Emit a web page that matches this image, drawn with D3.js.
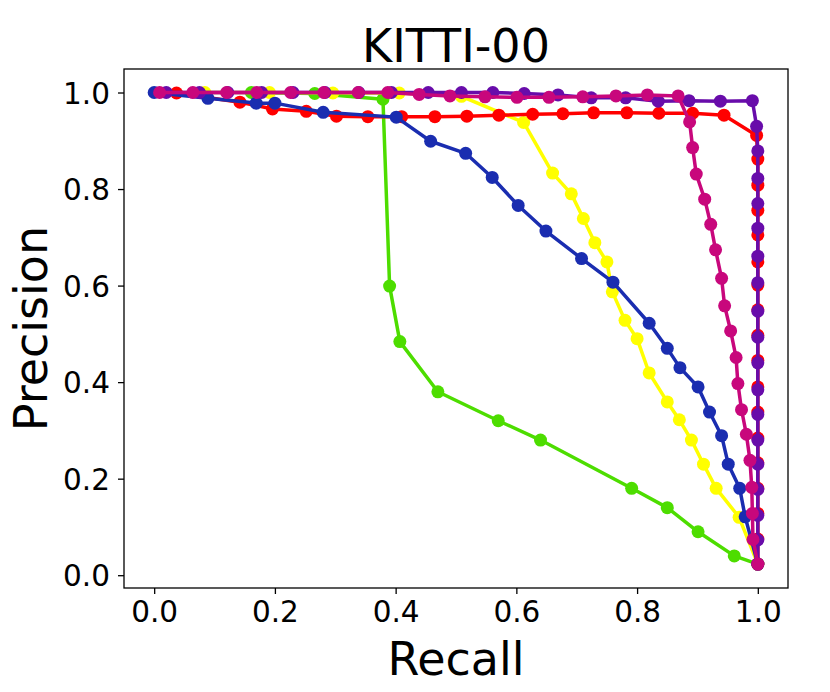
<!DOCTYPE html>
<html lang="en">
<head>
<meta charset="utf-8">
<script src="https://cdn.jsdelivr.net/npm/d3@7"></script>
<style>
  body { margin: 0; background: #fff; }
  text { font-family: "DejaVu Sans", sans-serif; fill: #000; }
</style>
</head>
<body>
<svg class="chart"></svg>
<script>
// values, one pair of arrays per curve
var greenRecall    = [0.161, 0.266, 0.379, 0.390, 0.407, 0.470, 0.570, 0.640, 0.791, 0.850, 0.901, 0.961, 1.0];
var greenPrecision = [1.0, 0.998, 0.986, 0.599, 0.484, 0.380, 0.320, 0.280, 0.180, 0.140, 0.090, 0.040, 0.023];

var yellowRecall    = [0.084, 0.191, 0.296, 0.406, 0.509, 0.612, 0.660, 0.691, 0.711, 0.730, 0.750, 0.759, 0.780, 0.800, 0.820, 0.850, 0.870, 0.890, 0.910, 0.931, 0.969, 1.0];
var yellowPrecision = [1.0, 1.0, 0.999, 0.999, 0.992, 0.938, 0.833, 0.790, 0.739, 0.689, 0.649, 0.587, 0.528, 0.490, 0.419, 0.359, 0.322, 0.280, 0.230, 0.180, 0.120, 0.023];

var redRecall    = [0.037, 0.142, 0.196, 0.252, 0.302, 0.354, 0.410, 0.465, 0.518, 0.571, 0.627, 0.677, 0.728, 0.783, 0.836, 0.892, 0.944, 0.998,
                    1.0, 1.0, 1.0, 1.0, 1.0, 1.0, 1.0, 1.0, 1.0, 1.0, 1.0, 1.0, 1.0, 1.0, 1.0, 1.0, 1.0];
var redPrecision = [0.999, 0.980, 0.966, 0.961, 0.951, 0.950, 0.950, 0.950, 0.951, 0.953, 0.955, 0.956, 0.958, 0.958, 0.957, 0.957, 0.953, 0.911,
                    0.862, 0.808, 0.756, 0.705, 0.649, 0.601, 0.550, 0.497, 0.445, 0.390, 0.338, 0.284, 0.233, 0.180, 0.128, 0.075, 0.023];

var blueRecall    = [0.0, 0.089, 0.169, 0.200, 0.280, 0.401, 0.458, 0.516, 0.560, 0.603, 0.649, 0.708, 0.760, 0.820, 0.850, 0.871, 0.901, 0.920, 0.940, 0.951, 0.970, 0.979, 1.0];
var bluePrecision = [1.0, 0.988, 0.978, 0.978, 0.959, 0.949, 0.899, 0.874, 0.824, 0.766, 0.713, 0.656, 0.607, 0.522, 0.470, 0.430, 0.390, 0.338, 0.289, 0.230, 0.180, 0.121, 0.023];

var purpleRecall    = [0.020, 0.075, 0.122, 0.178, 0.230, 0.283, 0.339, 0.393, 0.454, 0.509, 0.561, 0.613, 0.669, 0.724, 0.781, 0.835, 0.886, 0.938, 0.991, 0.998,
                       1.0, 1.0, 1.0, 1.0, 1.0, 1.0, 1.0, 1.0, 1.0, 1.0, 1.0, 1.0, 1.0, 1.0, 1.0, 1.0, 1.0];
var purplePrecision = [1.0, 1.0, 1.0, 1.0, 1.0, 1.0, 1.0, 1.0, 1.0, 1.0, 1.0, 0.998, 0.995, 0.989, 0.989, 0.982, 0.983, 0.982, 0.983, 0.930,
                       0.879, 0.822, 0.770, 0.719, 0.661, 0.606, 0.547, 0.493, 0.440, 0.384, 0.333, 0.280, 0.230, 0.178, 0.124, 0.073, 0.023];

var magentaRecall    = [0.009, 0.064, 0.120, 0.170, 0.226, 0.281, 0.338, 0.387, 0.439, 0.490, 0.548, 0.601, 0.654, 0.710, 0.765, 0.817, 0.868,
                        0.887, 0.892, 0.898, 0.912, 0.922, 0.930, 0.940, 0.945, 0.955, 0.964, 0.967, 0.973, 0.981, 0.987, 0.990, 0.991, 0.992, 1.0];
var magentaPrecision = [1.0, 1.0, 1.0, 1.0, 1.0, 1.0, 1.0, 1.0, 0.996, 0.993, 0.991, 0.990, 0.990, 0.991, 0.993, 0.995, 0.993,
                        0.939, 0.886, 0.831, 0.779, 0.727, 0.674, 0.615, 0.558, 0.506, 0.451, 0.397, 0.343, 0.292, 0.238, 0.182, 0.128, 0.074, 0.023];

var xTicks = [0.0, 0.2, 0.4, 0.6, 0.8, 1.0];
var yTicks = [0.0, 0.2, 0.4, 0.6, 0.8, 1.0];

// drawing order matches the reference (last one on top)
var curves = [
  {name: 'green',   color: '#4ddd00', recall: greenRecall,   precision: greenPrecision},
  {name: 'yellow',  color: '#ffff00', recall: yellowRecall,  precision: yellowPrecision},
  {name: 'red',     color: '#ff0000', recall: redRecall,     precision: redPrecision},
  {name: 'blue',    color: '#1a2db0', recall: blueRecall,    precision: bluePrecision},
  {name: 'purple',  color: '#680caa', recall: purpleRecall,  precision: purplePrecision},
  {name: 'magenta', color: '#c8077c', recall: magentaRecall, precision: magentaPrecision}
];

var screenWidth = 830, screenHeight = 692;
var margins = {top: 69, bottom: 104, left: 124, right: 42};
var width = screenWidth - margins.left - margins.right;
var height = screenHeight - margins.top - margins.bottom;

var svg = d3.select('.chart')
            .attr('width', screenWidth)
            .attr('height', screenHeight);

var xScale = d3.scaleLinear().domain([-0.05, 1.05]).range([0, width]);
var yScale = d3.scaleLinear().domain([-0.0265, 1.0487]).range([height, 0]);

var plot = svg.append('g')
              .attr('transform', 'translate(' + margins.left + ',' + margins.top + ')');

var line = d3.line()
             .x(function(d){ return xScale(d[0]); })
             .y(function(d){ return yScale(d[1]); });

curves.forEach(function(c){
  var pts = c.recall.map(function(r, i){ return [r, c.precision[i]]; });
  var g = plot.append('g').classed(c.name, true);
  g.append('path')
   .datum(pts)
   .attr('d', line)
   .attr('fill', 'none')
   .attr('stroke', c.color)
   .attr('stroke-width', 3.5)
   .attr('stroke-linejoin', 'round');
  g.selectAll('circle')
   .data(pts)
   .enter()
   .append('circle')
   .attr('cx', function(d){ return xScale(d[0]); })
   .attr('cy', function(d){ return yScale(d[1]); })
   .attr('r', 6.5)
   .attr('fill', c.color);
});

// axes
var xAxis = d3.axisBottom(xScale).tickValues(xTicks).tickFormat(d3.format('.1f'))
              .tickSizeInner(6).tickSizeOuter(0).tickPadding(7);
var yAxis = d3.axisLeft(yScale).tickValues(yTicks).tickFormat(d3.format('.1f'))
              .tickSizeInner(6).tickSizeOuter(0).tickPadding(8);

var gx = plot.append('g').attr('transform', 'translate(0,' + height + ')').call(xAxis);
var gy = plot.append('g').call(yAxis);

[gx, gy].forEach(function(a){
  a.select('.domain').remove();
  a.selectAll('.tick line').attr('stroke', '#000').attr('stroke-width', 1.3);
  a.selectAll('.tick text').style('font-size', '29.5px').style('font-family', '"DejaVu Sans", sans-serif').attr('fill', '#000');
});
gy.selectAll('.tick text').attr('dy', '0.36em');

plot.append('rect')
    .attr('x', 0).attr('y', 0)
    .attr('width', width).attr('height', height)
    .attr('fill', 'none')
    .attr('stroke', '#000')
    .attr('stroke-width', 1.3);

// titles
svg.append('text')
   .attr('x', margins.left + width / 2)
   .attr('y', 62)
   .attr('text-anchor', 'middle')
   .style('font-size', '46px')
   .text('KITTI-00');

svg.append('text')
   .attr('x', margins.left + width / 2)
   .attr('y', 675)
   .attr('text-anchor', 'middle')
   .style('font-size', '46px')
   .text('Recall');

svg.append('text')
   .attr('transform', 'translate(47,' + (margins.top + height / 2) + ') rotate(-90)')
   .attr('text-anchor', 'middle')
   .style('font-size', '46px')
   .text('Precision');
</script>
</body>
</html>
